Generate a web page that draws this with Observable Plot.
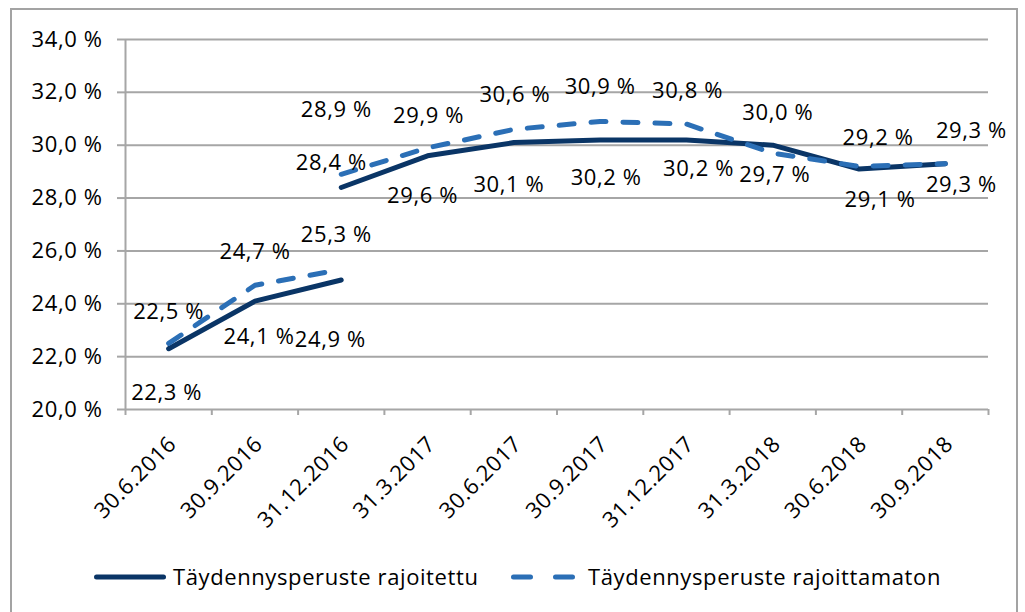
<!DOCTYPE html>
<html>
<head>
<meta charset="utf-8">
<script src="https://cdn.jsdelivr.net/npm/d3@7"></script>
<script src="https://cdn.jsdelivr.net/npm/@observablehq/plot@0.6"></script>
<style>
  html, body { margin: 0; padding: 0; background: #fff; }
  #wrap { position: relative; width: 1025px; height: 612px; overflow: hidden; font-family: "Open Sans", sans-serif; }
  #frame { position: absolute; left: 10px; top: 8px; width: 1008px; height: 640px; border: 2px solid #a3a3a3; box-sizing: border-box; }
  #chart { position: absolute; left: 0; top: 0; }
  #legend { position: absolute; left: 0; top: 540px; }
  svg text { letter-spacing: 0.6px; }
</style>
</head>
<body>
<div id="wrap">
  <div id="frame"></div>
  <div id="chart"></div>
  <div id="legend"></div>
</div>
<script>
// ---- data ----
const dates = ["30.6.2016","30.9.2016","31.12.2016","31.3.2017","30.6.2017","30.9.2017","31.12.2017","31.3.2018","30.6.2018","30.9.2018"];
const seriesNames = ["Täydennysperuste rajoitettu", "Täydennysperuste rajoittamaton"];
// before the break (30.6.2016 – 31.12.2016)
const rajoitettuOld = [22.3, 24.1, 24.9];
const rajoittamatonOld = [22.5, 24.7, 25.3];
// after the break (31.12.2016 – 30.9.2018)
const rajoitettuNew = [28.4, 29.6, 30.1, 30.2, 30.2, 30.0, 29.1, 29.3];
const rajoittamatonNew = [28.9, 29.9, 30.6, 30.9, 30.8, 29.7, 29.2, 29.3];
const yTicks = [20, 22, 24, 26, 28, 30, 32, 34];

// label offsets (px) – styling only
const solidOldDx = [-2, 4, -11], solidOldDy = [44, 36, 60];
const solidNewDx = [-10, -5, -5, 6, 12, 5, 21, 16], solidNewDy = [-25, 40, 42, 38, 29, -32, 31, 21];
const dashOldDx = [0, 0, -5], dashOldDy = [-31, -33, -34];
const dashNewDx = [-5, 1, 1, 0, 1, 2, 19, 26], dashNewDy = [-64, -32, -34, -34, -33, 22, -28, -33];

// ---- build table ----
const NEW_START = 2;
function rows(vals, start, seg, series, dxs, dys) {
  return vals.map((v, k) => ({i: start + k, v, seg, series, dx: dxs[k], dy: dys[k]}));
}
const solid = [
  ...rows(rajoitettuOld, 0, "old", seriesNames[0], solidOldDx, solidOldDy),
  ...rows(rajoitettuNew, NEW_START, "new", seriesNames[0], solidNewDx, solidNewDy)
];
const dashed = [
  ...rows(rajoittamatonOld, 0, "old", seriesNames[1], dashOldDx, dashOldDy),
  ...rows(rajoittamatonNew, NEW_START, "new", seriesNames[1], dashNewDx, dashNewDy)
];

const navy = "#0a3566";
const blue = "#2b6fb6";
const fmtPct = d => d.toFixed(1).replace(".", ",") + " %";
const font = "Open Sans, sans-serif";
const FS = 22;

function labels(data) {
  return data.map(d => Plot.text([d], {
    x: "i", y: "v", text: r => fmtPct(r.v), dx: d.dx, dy: d.dy,
    fill: "black", fontSize: FS, fontFamily: font
  }));
}

const idx = d3.range(dates.length);
const bounds = d3.range(dates.length + 1).map(k => k - 0.5);

const chart = Plot.plot({
  width: 1025,
  height: 540,
  marginLeft: 125,
  marginRight: 37,
  marginTop: 39,
  marginBottom: 131,
  style: {fontFamily: font, fontSize: FS + "px", color: "black", background: "transparent"},
  x: {domain: [-0.5, dates.length - 0.5]},
  y: {domain: [20, 34]},
  marks: [
    Plot.gridY(yTicks, {stroke: "#a6a6a6", strokeOpacity: 1, strokeWidth: 2}),
    Plot.ruleX([-0.5], {stroke: "#a6a6a6", strokeWidth: 2}),
    Plot.axisY(yTicks, {tickFormat: fmtPct, tickSize: 8, tickPadding: 15, stroke: "#a6a6a6", strokeWidth: 2, label: null, fontSize: FS, fill: "black"}),
    Plot.axisX(bounds, {tickFormat: () => "", tickSize: 6, stroke: "#a6a6a6", strokeWidth: 2, label: null}),
    Plot.axisX(idx, {tickFormat: i => dates[i], tickSize: 0, tickPadding: 31, dx: 4, tickRotate: -45, label: null, fontSize: FS, fill: "black"}),
    Plot.line(solid, {x: "i", y: "v", z: "seg", stroke: navy, strokeWidth: 5, strokeLinecap: "round", strokeLinejoin: "round"}),
    Plot.line(dashed, {x: "i", y: "v", z: "seg", stroke: blue, strokeWidth: 5, strokeLinecap: "round", strokeLinejoin: "round", strokeDasharray: "15,17"}),
    ...labels(solid),
    ...labels(dashed)
  ]
});
document.getElementById("chart").appendChild(chart);

// ---- legend ----
const lg = d3.select("#legend").append("svg").attr("width", 1025).attr("height", 72);
const ly = 37;
lg.append("line").attr("x1", 96.5).attr("x2", 163.5).attr("y1", ly).attr("y2", ly)
  .attr("stroke", navy).attr("stroke-width", 5).attr("stroke-linecap", "round");
lg.append("text").attr("x", 173).attr("y", ly).attr("dy", "0.35em")
  .attr("font-family", font).attr("font-size", FS).attr("fill", "black").text(seriesNames[0]);
lg.append("line").attr("x1", 513.5).attr("x2", 574.5).attr("y1", ly).attr("y2", ly)
  .attr("stroke", blue).attr("stroke-width", 5).attr("stroke-linecap", "round").attr("stroke-dasharray", "17,25");
lg.append("text").attr("x", 588).attr("y", ly).attr("dy", "0.35em")
  .attr("font-family", font).attr("font-size", FS).attr("fill", "black").text(seriesNames[1]);
</script>
</body>
</html>
